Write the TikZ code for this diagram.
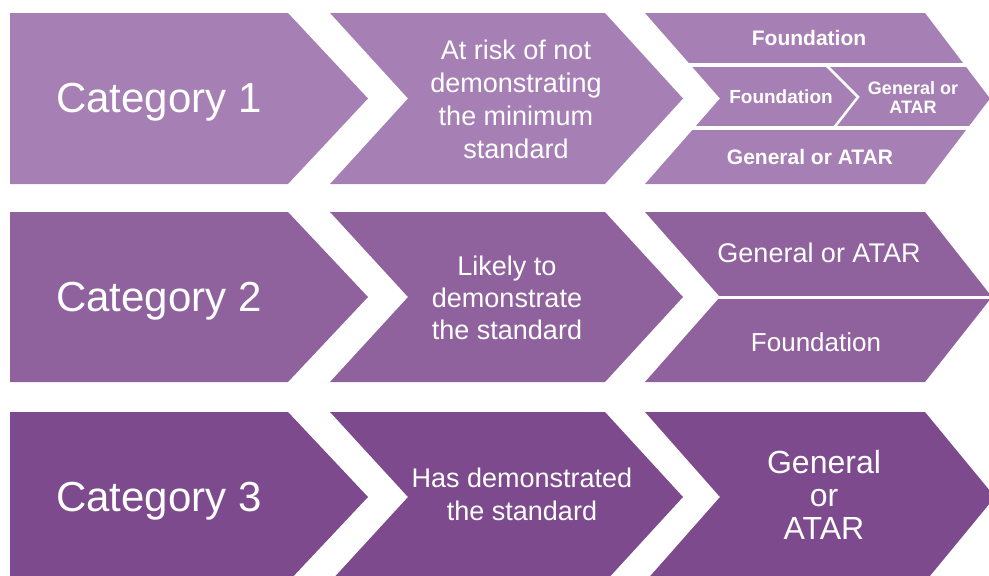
\documentclass[tikz,border=0pt]{standalone}
\usepackage{tikz}
\usepackage{fontspec}
\setmainfont{Liberation Sans}
\definecolor{rowone}{RGB}{166,128,180}
\definecolor{rowtwo}{RGB}{143,98,158}
\definecolor{rowthree}{RGB}{124,74,141}

\begin{document}
\begin{tikzpicture}[x=1pt,y=-1pt,
  cat node/.style={text=white,anchor=base,font=\fontsize{42}{50}\selectfont},
  mid node/.style={text=white,align=center,font=\fontsize{27}{33}\selectfont},
  out node/.style={text=white,align=center,font=\fontsize{27}{33}\selectfont},
  bold node/.style={text=white,align=center,font=\fontsize{20}{20}\selectfont\bfseries},
  cut/.style={draw=white,line width=4pt}]
  \useasboundingbox (0,0) rectangle (989,576);
  \clip (0,0) rectangle (989,576);

  % row 1
  \fill[rowone] (10,13) -- (288,13) -- (368,98.5) -- (288,184) -- (10,184) -- cycle;
  \fill[rowone] (330,13) -- (605,13) -- (683,98.5) -- (605,184) -- (330,184) -- (408,98.5) -- cycle;
  \fill[rowone] (645,13) -- (925,13) -- (990,98.5) -- (925,184) -- (645,184) -- (720,98.5) -- cycle;
  \draw[cut] (670,64.5) -- (995,64.5);
  \draw[cut] (670,127.5) -- (995,127.5);
  \draw[cut,line width=2.5pt] (827,66) -- (858,97) -- (833,129);

  % row 2
  \fill[rowtwo] (10,212) -- (288,212) -- (368,297) -- (288,382) -- (10,382) -- cycle;
  \fill[rowtwo] (330,212) -- (605,212) -- (683,297) -- (605,382) -- (330,382) -- (408,297) -- cycle;
  \fill[rowtwo] (645,212) -- (925,212) -- (992,297) -- (925,382) -- (645,382) -- (720,297) -- cycle;
  \draw[cut,line width=3pt] (700,297.5) -- (995,297.5);

  % row 3
  \fill[rowthree] (10,412) -- (288,412) -- (368,497) -- (288,582) -- (10,582) -- cycle;
  \fill[rowthree] (330,412) -- (605,412) -- (683,497) -- (605,582) -- (330,582) -- (408,497) -- cycle;
  \fill[rowthree] (645,412) -- (925,412) -- (995,497) -- (925,582) -- (645,582) -- (720,497) -- cycle;

  \node[cat node] (c1) at (159,112) {Category 1};
  \node[cat node] (c2) at (159,311) {Category 2};
  \node[cat node] (c3) at (159,511) {Category 3};

  \node[mid node] (m1) at (516,99) {At risk of not\\demonstrating\\the minimum\\standard};
  \node[mid node,font=\fontsize{27}{32}\selectfont] (m2) at (507,298) {Likely to\\demonstrate\\the standard};
  \node[mid node] (m3) at (522,494) {Has demonstrated\\the standard};

  \node[bold node,font=\fontsize{21}{21}\selectfont\bfseries] (f1) at (809,38) {Foundation};
  \node[bold node,font=\fontsize{19}{19}\selectfont\bfseries] (f2) at (781,97) {Foundation};
  \node[bold node,font=\fontsize{18}{19}\selectfont\bfseries] (g1) at (913,97) {General or\\ATAR};
  \node[bold node,font=\fontsize{21}{21}\selectfont\bfseries] (g2) at (810,157) {General or ATAR};

  \node[out node] (g3) at (819,253) {General or ATAR};
  \node[out node,font=\fontsize{26}{33}\selectfont] (f3) at (816,342) {Foundation};
  \node[out node,font=\fontsize{32}{33}\selectfont] (g4) at (824,495) {General\\or\\ATAR};
\end{tikzpicture}
\end{document}
